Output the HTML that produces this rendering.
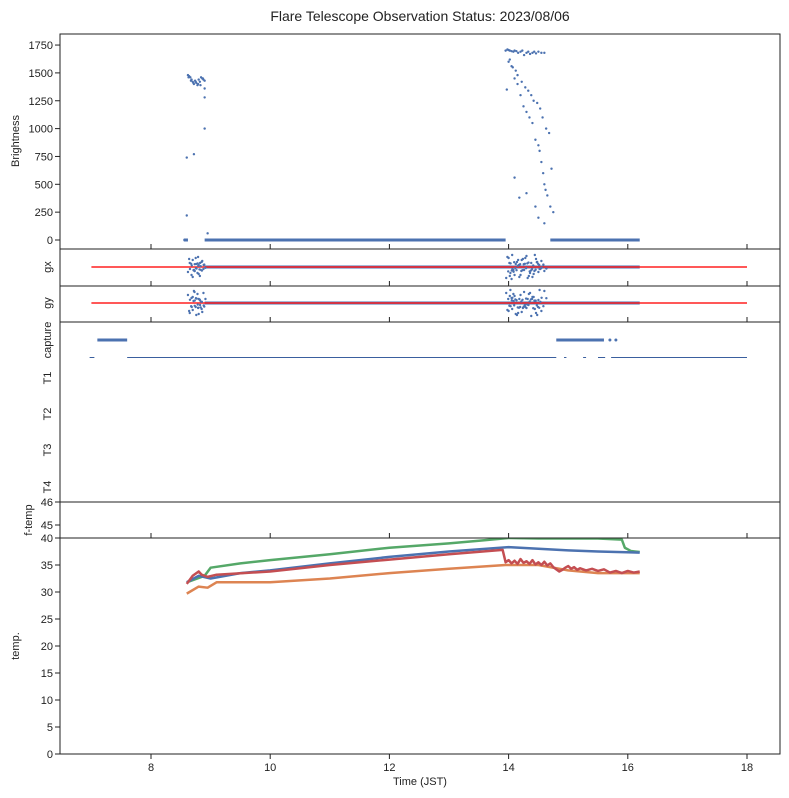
<!DOCTYPE html>
<html><head><meta charset="utf-8"><style>
body{margin:0;background:#fff}
svg{display:block;font-family:"Liberation Sans","DejaVu Sans",sans-serif}
</style></head><body>
<svg id="c" width="789" height="798" viewBox="0 0 789 798">
<text x="420" y="21" text-anchor="middle" font-size="14" fill="#222">Flare Telescope Observation Status: 2023/08/06</text>
<g id="g"></g>
</svg>
<script>
const xTicks=[8,10,12,14,16,18];
const bTicks=[0,250,500,750,1000,1250,1500,1750];
const tTicks=[0,5,10,15,20,25,30,35,40];
const fTicks=[45,46];
const bT=[8.56,8.58,8.6,8.6,8.72,8.9,8.9,8.9,8.95,8.62,8.64,8.66,8.68,8.7,8.72,8.74,8.76,8.78,8.8,8.82,8.84,8.86,8.88,8.63,8.67,8.71,8.75,8.79,8.83,8.87,8.9,
13.95,13.98,14.0,14.02,14.05,14.08,14.1,14.13,14.16,14.2,14.23,14.26,14.3,14.33,14.36,14.4,14.43,14.46,14.5,14.55,14.6,
13.97,14.0,14.05,14.1,14.12,14.15,14.2,14.25,14.3,14.35,14.4,14.45,14.5,14.52,14.55,14.58,14.6,14.62,14.65,14.7,14.75,14.02,14.07,14.15,14.22,14.28,14.33,14.38,14.42,14.48,14.53,14.57,14.63,14.68,14.72,14.1,14.18,14.3,14.45,14.5,14.6];
const bV=[0,0,740,220,770,1000,1280,1360,60,1480,1470,1460,1440,1420,1400,1430,1410,1390,1440,1420,1460,1450,1440,1460,1430,1410,1420,1400,1390,1450,1430,
1700,1710,1705,1700,1695,1690,1700,1695,1680,1690,1700,1660,1680,1690,1670,1680,1690,1675,1690,1680,1680,
1350,1600,1560,1450,1520,1400,1300,1200,1150,1100,1050,900,850,800,700,600,500,450,400,300,250,
1620,1550,1480,1420,1370,1340,1300,1250,1230,1180,1100,1000,960,640,560,380,420,300,200,150,80];
const bLineT=[[8.9,13.95],[14.7,16.2],[8.55,8.62]];
const gT=[8.62,8.65,8.68,8.7,8.72,8.75,8.78,8.8,8.82,8.85,8.88,8.64,8.7,8.76,8.8,8.86,8.73,8.79,
13.96,14.0,14.03,14.06,14.1,14.14,14.18,14.22,14.26,14.3,14.34,14.38,14.42,14.46,14.5,14.55,14.6,13.98,14.05,14.12,14.2,14.28,14.36,14.44,14.52,14.02,14.16,14.32,14.48,14.08,14.24,14.4];
const gxV=[5,-4,8,-7,3,-9,6,-2,9,-5,2,-8,10,-3,7,-6,4,-10,
11,-9,6,-12,8,-5,10,-7,3,-11,9,-4,7,-8,5,-6,4,-10,12,-3,8,-9,6,-12,2,9,-7,11,-5,3,-8,10];
const gyV=[-8,10,-5,7,-12,4,-9,11,-3,6,-10,8,-6,12,-4,9,-11,5,
-10,8,-13,6,-7,12,-4,9,-11,5,-9,13,-6,10,-3,8,-12,7,-5,11,-8,4,-10,6,-13,-7,10,-4,12,-9,5,-6];
const capSeg=[[7.1,7.6],[14.8,15.6]];
const capDots=[15.7,15.8];
const t1Seg=[[6.97,7.05],[7.6,14.8],[14.93,14.97],[15.25,15.3],[15.5,15.62],[15.72,18.0]];
const grT=[8.6,8.9,9.0,9.5,10,11,12,13,13.5,14.0,14.5,15.0,15.5,15.9,15.95,16.05,16.2];
const grV=[31.8,33,34.5,35.3,35.9,37,38.2,39,39.5,40,39.9,39.9,39.9,39.7,38.2,37.6,37.4];
const blT=[8.6,8.8,9.0,9.5,10,11,12,13,14,14.5,15,15.5,16.2];
const blV=[31.8,33,32.5,33.5,34,35.3,36.5,37.5,38.3,38,37.7,37.5,37.3];
const rdT=[8.6,8.7,8.8,8.85,8.95,9.1,10,11,12,13,13.9,13.95,14.0,14.05,14.1,14.15,14.2,14.25,14.3,14.35,14.4,14.45,14.5,14.55,14.6,14.65,14.7,14.75,14.8,14.85,14.9,14.95,15.0,15.05,15.1,15.15,15.2,15.3,15.4,15.5,15.6,15.7,15.8,15.9,16.0,16.1,16.2];
const rdV=[31.5,33,33.8,33.2,32.8,33.2,33.8,35,36,37,37.8,35.5,35.9,35.3,35.8,35.2,36.1,35.4,35.7,35.2,35.9,35.1,35.5,35.0,35.6,34.9,35.3,34.6,34.2,33.8,34.1,34.5,34.8,34.3,34.6,34.1,34.4,34.0,34.3,33.9,34.2,33.6,33.9,33.5,33.9,33.6,33.8];
const orT=[8.6,8.8,8.95,9.1,10,11,12,13,13.95,14.5,15,15.5,16.2];
const orV=[29.7,31,30.8,31.8,31.8,32.5,33.5,34.3,35,35,34,33.5,33.5];

const X=t=>151+(t-8)*59.6;
const YB=v=>240-v*0.1114;
const YT=v=>754-v*5.4;
const YF=v=>525-(v-45)*23;
const g=document.getElementById('g');
const NS='http://www.w3.org/2000/svg';
function mk(tag,a,p){const e=document.createElementNS(NS,tag);for(const k in a)e.setAttribute(k,a[k]);(p||g).appendChild(e);return e;}
function txt(x,y,s,anchor,rot){const e=mk('text',{x:x,y:y,'font-size':11,fill:'#222','text-anchor':anchor||'end'});if(rot)e.setAttribute('transform','rotate(-90 '+x+' '+y+')');e.textContent=s;return e;}
const L=60,R=780;
const panels=[[34,249],[249,286],[286,322],[322,502],[502,538],[538,754]];
panels.forEach((p,i)=>{const r=mk('rect',{x:L,y:p[0],width:R-L,height:p[1]-p[0],fill:'none',stroke:'#222','stroke-width':1});

});
[249,286,322,538].forEach(yb=>xTicks.forEach(t=>mk('line',{x1:X(t),x2:X(t),y1:yb,y2:yb-5,stroke:'#222'})));
xTicks.forEach(t=>{mk('line',{x1:X(t),x2:X(t),y1:754,y2:759,stroke:'#222'});
const e=txt(X(t),771,String(t),'middle');

});
const xl=txt(420,785,'Time (JST)','middle');


bTicks.forEach(v=>{mk('line',{x1:55,x2:60,y1:YB(v),y2:YB(v),stroke:'#222'});
const e=txt(53,YB(v)+4,String(v));

});
tTicks.forEach(v=>{mk('line',{x1:55,x2:60,y1:YT(v),y2:YT(v),stroke:'#222'});
const e=txt(53,YT(v)+4,String(v));

});
fTicks.forEach(v=>{mk('line',{x1:55,x2:60,y1:YF(v),y2:YF(v),stroke:'#222'});
const e=txt(53,YF(v)+4,String(v));

});
[['Brightness',19,141],['gx',51,267],['gy',51,303],['capture',51,340],['T1',51,378],['T2',51,414],['T3',51,450],['T4',51,487],['f-temp',32,520],['temp.',19,646]].forEach(a=>{
const e=txt(a[1],a[2],a[0],'middle',true);

});
const blue='#4c72b0';
bLineT.forEach(s=>{const e=mk('line',{x1:X(s[0]),x2:X(s[1]),y1:YB(0),y2:YB(0),stroke:blue,'stroke-width':3});

});
bT.forEach((t,i)=>{const e=mk('circle',{cx:X(t),cy:YB(bV[i]),r:1.2,fill:blue});

});
[[267,gxV,'gx'],[303,gyV,'gy']].forEach(c=>{
const bl=mk('line',{x1:X(8.9),x2:X(16.2),y1:c[0],y2:c[0],stroke:blue,'stroke-width':3});


const rl=mk('line',{x1:X(7.0),x2:X(18.0),y1:c[0],y2:c[0],stroke:'#ff2020','stroke-width':1.5});


gT.forEach((t,i)=>{const e=mk('circle',{cx:X(t),cy:c[0]+c[1][i],r:1.2,fill:blue});

});
gT.forEach((t,i)=>{mk('circle',{cx:X(t)+2,cy:c[0]+c[1][i]*0.4,r:1.2,fill:blue});});
});
capSeg.forEach(s=>{const e=mk('line',{x1:X(s[0]),x2:X(s[1]),y1:340,y2:340,stroke:blue,'stroke-width':3});

});
capDots.forEach(t=>mk('circle',{cx:X(t),cy:340,r:1.5,fill:blue}));
t1Seg.forEach(s=>{const e=mk('line',{x1:X(s[0]),x2:X(s[1]),y1:357.5,y2:357.5,stroke:'#3a5f9e','stroke-width':1});

});
const clip=mk('clipPath',{id:'tc'});mk('rect',{x:L,y:538.5,width:R-L,height:216},clip);
[[grT,grV,'#55a868','temp-green'],[orT,orV,'#dd8452','temp-orange'],[blT,blV,'#4c72b0','temp-blue'],[rdT,rdV,'#c44e52','temp-red']].forEach(s=>{
const pts=s[0].map((t,i)=>X(t)+','+YT(s[1][i])).join(' ');
const e=mk('polyline',{points:pts,fill:'none',stroke:s[2],'stroke-width':2.5,'clip-path':'url(#tc)','stroke-linejoin':'round'});

});
</script>
</body></html>
